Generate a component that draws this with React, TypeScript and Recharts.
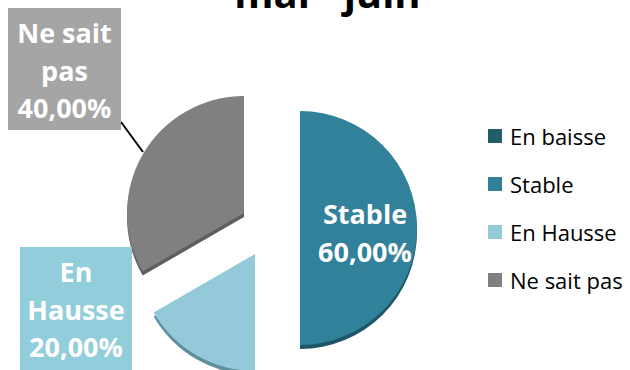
import { PieChart, Pie, Cell, Legend } from "recharts";

const categories = ["En baisse", "Stable", "En Hausse", "Ne sait pas"];
const values = [0, 60, 20, 40];
const percentLabels = ["0,00%", "60,00%", "20,00%", "40,00%"];
const colors = ["#235d6c", "#31819a", "#93c9d9", "#808080"];
const edgeColors = ["#173f49", "#1d5567", "#5d8f9e", "#5e5e5e"];
const title = "mai - juin";

const data = categories.map((name, i) => ({ name, value: values[i] }));

const CX = 270;
const CY = 228;
const R = 117;
const EXPLODE = 30;
const DEPTH = 4;
const FONT = "'Open Sans', 'DejaVu Sans', sans-serif";

const total = values.reduce((a, b) => a + b, 0);
const offsets = values.map((v, i) => {
  const before = values.slice(0, i).reduce((a, b) => a + b, 0);
  const mid = 90 - ((before + v / 2) / total) * 360;
  const rad = (mid * Math.PI) / 180;
  return { dx: EXPLODE * Math.cos(rad), dy: -EXPLODE * Math.sin(rad) };
});

// boxed labels (Ne sait pas, En Hausse), plain label for Stable
const boxes: Record<string, any> = {
  "Ne sait pas": { x: 8, y: 8, w: 113, h: 122, fill: "#a5a5a5", lines: ["Ne sait", "pas"], line: true },
  "En Hausse": { x: 20, y: 247, w: 112, h: 126, fill: "#92cddc", lines: ["En", "Hausse"], line: false },
};

const renderLabel = (slice: number) => (props: any) => {
  if (props.index !== slice || values[slice] === 0) return null;
  const name = categories[slice];
  const box = boxes[name];
  const txt = { fill: "#fff", fontFamily: FONT, fontWeight: 700, fontSize: 27, textAnchor: "middle" as const };
  if (box) {
    const lines = [...box.lines, percentLabels[slice]];
    const mx = box.x + box.w / 2;
    return (
      <g>
        {box.line && <line x1={121} y1={122} x2={143} y2={152} stroke="#000" strokeWidth={2} />}
        <rect x={box.x} y={box.y} width={box.w} height={box.h} fill={box.fill} />
        {lines.map((l: string, k: number) => (
          <text key={k} x={mx} y={box.y + 35 + k * 37.5} {...txt}>
            {l}
          </text>
        ))}
      </g>
    );
  }
  const x = props.cx + 65;
  return (
    <g>
      <text x={x} y={props.cy - 4} {...txt}>{name}</text>
      <text x={x} y={props.cy + 34} {...txt}>{percentLabels[slice]}</text>
    </g>
  );
};

const renderLegend = () => (
  <div style={{ fontFamily: FONT, fontSize: 22, color: "#000" }}>
    {categories.map((c, i) => (
      <div key={c} style={{ display: "flex", alignItems: "center", height: 48 }}>
        <span style={{ width: 14, height: 14, background: colors[i], marginRight: 8, display: "inline-block" }} />
        <span>{c}</span>
      </div>
    ))}
  </div>
);

export default function App() {
  return (
    <div style={{ position: "absolute", left: 0, top: 0, width: 630, height: 370, overflow: "hidden", background: "#fff" }}>
      <div
        style={{
          position: "absolute",
          left: 0,
          width: 655,
          top: -27,
          textAlign: "center",
          fontFamily: FONT,
          fontWeight: 700,
          fontSize: 40,
          lineHeight: "40px",
          color: "#000",
        }}
      >
        {title}
      </div>
      <PieChart width={630} height={370} margin={{ top: 0, right: 0, bottom: 0, left: 0 }}>
        {values.map((v, i) => (
          <Pie
            key={"edge" + i}
            data={data}
            dataKey="value"
            nameKey="name"
            cx={CX + offsets[i].dx}
            cy={CY + offsets[i].dy + DEPTH}
            outerRadius={R}
            startAngle={90}
            endAngle={-270}
            stroke="none"
            isAnimationActive={false}
            legendType="none"
          >
            {data.map((d, k) => (
              <Cell key={k} fill={k === i ? edgeColors[k] : "none"} />
            ))}
          </Pie>
        ))}
        {values.map((v, i) => (
          <Pie
            key={"top" + i}
            data={data}
            dataKey="value"
            nameKey="name"
            cx={CX + offsets[i].dx}
            cy={CY + offsets[i].dy}
            outerRadius={R}
            startAngle={90}
            endAngle={-270}
            stroke="none"
            isAnimationActive={false}
            labelLine={false}
            label={renderLabel(i)}
          >
            {data.map((d, k) => (
              <Cell key={k} fill={k === i ? colors[k] : "none"} />
            ))}
          </Pie>
        ))}
        <Legend
          layout="vertical"
          align="right"
          verticalAlign="middle"
          wrapperStyle={{ position: "absolute", left: 488, top: 112, width: 142 }}
          content={renderLegend}
        />
      </PieChart>
    </div>
  );
}
